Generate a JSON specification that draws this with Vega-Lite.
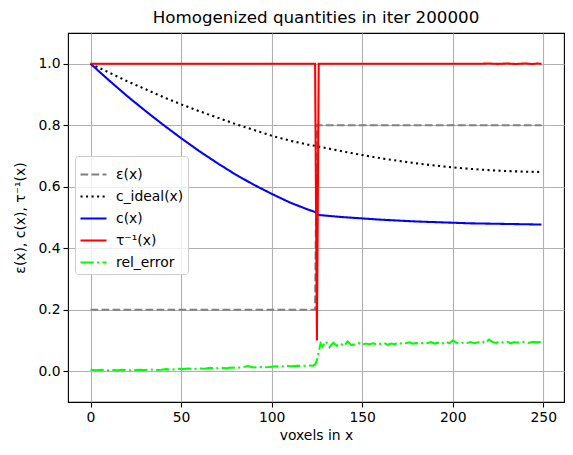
{
  "$schema": "https://vega.github.io/schema/vega-lite/v6.json",
  "autosize": "none",
  "width": 496,
  "height": 369,
  "padding": {"left": 68, "top": 33, "right": 9, "bottom": 53},
  "background": "white",
  "title": {"text": "Homogenized quantities in iter 200000", "fontSize": 16.7, "font": "DejaVu Sans", "fontWeight": "normal", "color": "black", "anchor": "middle", "offset": 6},
  "config": {
    "view": {"stroke": "black", "strokeWidth": 1.1},
    "axis": {"labelFont": "DejaVu Sans", "titleFont": "DejaVu Sans", "labelFontSize": 13.9, "titleFontSize": 13.9, "titleFontWeight": "normal", "labelColor": "black", "titleColor": "black", "tickColor": "black", "tickSize": 5, "tickWidth": 1.1, "domain": false, "grid": true, "gridColor": "#b0b0b0", "gridWidth": 1.1}
  },
  "data": {"values": [
    {"x": 0, "v": 0.2, "s": "ε(x)"}, {"x": 124, "v": 0.2, "s": "ε(x)"}, {"x": 125, "v": 0.8, "s": "ε(x)"}, {"x": 249, "v": 0.8, "s": "ε(x)"},
    {"x": 0, "v": 1.0, "s": "c_ideal(x)"}, {"x": 10, "v": 0.972, "s": "c_ideal(x)"}, {"x": 20, "v": 0.944, "s": "c_ideal(x)"}, {"x": 30, "v": 0.918, "s": "c_ideal(x)"}, {"x": 40, "v": 0.892, "s": "c_ideal(x)"}, {"x": 50, "v": 0.868, "s": "c_ideal(x)"}, {"x": 60, "v": 0.846, "s": "c_ideal(x)"}, {"x": 70, "v": 0.825, "s": "c_ideal(x)"}, {"x": 80, "v": 0.804, "s": "c_ideal(x)"}, {"x": 90, "v": 0.785, "s": "c_ideal(x)"}, {"x": 100, "v": 0.766, "s": "c_ideal(x)"}, {"x": 110, "v": 0.75, "s": "c_ideal(x)"}, {"x": 120, "v": 0.737, "s": "c_ideal(x)"}, {"x": 124, "v": 0.733, "s": "c_ideal(x)"}, {"x": 130, "v": 0.726, "s": "c_ideal(x)"}, {"x": 140, "v": 0.714, "s": "c_ideal(x)"}, {"x": 150, "v": 0.703, "s": "c_ideal(x)"}, {"x": 160, "v": 0.693, "s": "c_ideal(x)"}, {"x": 170, "v": 0.684, "s": "c_ideal(x)"}, {"x": 180, "v": 0.676, "s": "c_ideal(x)"}, {"x": 190, "v": 0.669, "s": "c_ideal(x)"}, {"x": 200, "v": 0.663, "s": "c_ideal(x)"}, {"x": 210, "v": 0.658, "s": "c_ideal(x)"}, {"x": 220, "v": 0.654, "s": "c_ideal(x)"}, {"x": 230, "v": 0.651, "s": "c_ideal(x)"}, {"x": 240, "v": 0.649, "s": "c_ideal(x)"}, {"x": 249, "v": 0.648, "s": "c_ideal(x)"},
    {"x": 0, "v": 1.0, "s": "c(x)"}, {"x": 10, "v": 0.947, "s": "c(x)"}, {"x": 20, "v": 0.896, "s": "c(x)"}, {"x": 30, "v": 0.848, "s": "c(x)"}, {"x": 40, "v": 0.802, "s": "c(x)"}, {"x": 50, "v": 0.758, "s": "c(x)"}, {"x": 60, "v": 0.716, "s": "c(x)"}, {"x": 70, "v": 0.677, "s": "c(x)"}, {"x": 80, "v": 0.64, "s": "c(x)"}, {"x": 90, "v": 0.607, "s": "c(x)"}, {"x": 100, "v": 0.577, "s": "c(x)"}, {"x": 110, "v": 0.549, "s": "c(x)"}, {"x": 120, "v": 0.526, "s": "c(x)"}, {"x": 124, "v": 0.518, "s": "c(x)"}, {"x": 125, "v": 0.511, "s": "c(x)"}, {"x": 126, "v": 0.508, "s": "c(x)"}, {"x": 130, "v": 0.506, "s": "c(x)"}, {"x": 140, "v": 0.501, "s": "c(x)"}, {"x": 150, "v": 0.497, "s": "c(x)"}, {"x": 160, "v": 0.493, "s": "c(x)"}, {"x": 170, "v": 0.49, "s": "c(x)"}, {"x": 180, "v": 0.487, "s": "c(x)"}, {"x": 190, "v": 0.485, "s": "c(x)"}, {"x": 200, "v": 0.483, "s": "c(x)"}, {"x": 210, "v": 0.481, "s": "c(x)"}, {"x": 220, "v": 0.48, "s": "c(x)"}, {"x": 230, "v": 0.479, "s": "c(x)"}, {"x": 240, "v": 0.478, "s": "c(x)"}, {"x": 249, "v": 0.477, "s": "c(x)"},
    {"x": 0, "v": 1.0, "s": "τ⁻¹(x)"}, {"x": 124, "v": 1.0, "s": "τ⁻¹(x)"}, {"x": 125, "v": 0.1, "s": "τ⁻¹(x)"}, {"x": 126, "v": 1.0, "s": "τ⁻¹(x)"}, {"x": 215, "v": 1.0, "s": "τ⁻¹(x)"}, {"x": 220, "v": 1.0008, "s": "τ⁻¹(x)"}, {"x": 225, "v": 0.9995, "s": "τ⁻¹(x)"}, {"x": 230, "v": 1.0008, "s": "τ⁻¹(x)"}, {"x": 235, "v": 0.9993, "s": "τ⁻¹(x)"}, {"x": 240, "v": 1.001, "s": "τ⁻¹(x)"}, {"x": 244, "v": 0.9992, "s": "τ⁻¹(x)"}, {"x": 247, "v": 1.001, "s": "τ⁻¹(x)"}, {"x": 249, "v": 0.9995, "s": "τ⁻¹(x)"},
    {"x": 0, "v": 0.005, "s": "rel_error"}, {"x": 3, "v": 0.003, "s": "rel_error"}, {"x": 6, "v": 0.005, "s": "rel_error"}, {"x": 9, "v": 0.002, "s": "rel_error"}, {"x": 12, "v": 0.004, "s": "rel_error"}, {"x": 15, "v": 0.003, "s": "rel_error"}, {"x": 18, "v": 0.005, "s": "rel_error"}, {"x": 21, "v": 0.003, "s": "rel_error"}, {"x": 24, "v": 0.004, "s": "rel_error"}, {"x": 27, "v": 0.005, "s": "rel_error"}, {"x": 30, "v": 0.004, "s": "rel_error"}, {"x": 33, "v": 0.006, "s": "rel_error"}, {"x": 36, "v": 0.004, "s": "rel_error"}, {"x": 39, "v": 0.005, "s": "rel_error"}, {"x": 42, "v": 0.007, "s": "rel_error"}, {"x": 45, "v": 0.005, "s": "rel_error"}, {"x": 48, "v": 0.008, "s": "rel_error"}, {"x": 51, "v": 0.007, "s": "rel_error"}, {"x": 54, "v": 0.009, "s": "rel_error"}, {"x": 57, "v": 0.007, "s": "rel_error"}, {"x": 60, "v": 0.009, "s": "rel_error"}, {"x": 63, "v": 0.008, "s": "rel_error"}, {"x": 66, "v": 0.011, "s": "rel_error"}, {"x": 69, "v": 0.009, "s": "rel_error"}, {"x": 72, "v": 0.011, "s": "rel_error"}, {"x": 75, "v": 0.01, "s": "rel_error"}, {"x": 78, "v": 0.012, "s": "rel_error"}, {"x": 81, "v": 0.011, "s": "rel_error"}, {"x": 84, "v": 0.013, "s": "rel_error"}, {"x": 87, "v": 0.017, "s": "rel_error"}, {"x": 90, "v": 0.012, "s": "rel_error"}, {"x": 93, "v": 0.014, "s": "rel_error"}, {"x": 96, "v": 0.013, "s": "rel_error"}, {"x": 99, "v": 0.014, "s": "rel_error"}, {"x": 102, "v": 0.016, "s": "rel_error"}, {"x": 105, "v": 0.015, "s": "rel_error"}, {"x": 108, "v": 0.017, "s": "rel_error"}, {"x": 111, "v": 0.016, "s": "rel_error"}, {"x": 114, "v": 0.018, "s": "rel_error"}, {"x": 117, "v": 0.017, "s": "rel_error"}, {"x": 120, "v": 0.019, "s": "rel_error"}, {"x": 123, "v": 0.018, "s": "rel_error"}, {"x": 124, "v": 0.022, "s": "rel_error"}, {"x": 125, "v": 0.035, "s": "rel_error"}, {"x": 126, "v": 0.062, "s": "rel_error"}, {"x": 127, "v": 0.09, "s": "rel_error"}, {"x": 128, "v": 0.08, "s": "rel_error"}, {"x": 130, "v": 0.097, "s": "rel_error"}, {"x": 132, "v": 0.078, "s": "rel_error"}, {"x": 134, "v": 0.093, "s": "rel_error"}, {"x": 136, "v": 0.083, "s": "rel_error"}, {"x": 138, "v": 0.09, "s": "rel_error"}, {"x": 140, "v": 0.082, "s": "rel_error"}, {"x": 142, "v": 0.097, "s": "rel_error"}, {"x": 144, "v": 0.085, "s": "rel_error"}, {"x": 146, "v": 0.088, "s": "rel_error"}, {"x": 148, "v": 0.092, "s": "rel_error"}, {"x": 150, "v": 0.086, "s": "rel_error"}, {"x": 152, "v": 0.09, "s": "rel_error"}, {"x": 154, "v": 0.088, "s": "rel_error"}, {"x": 156, "v": 0.091, "s": "rel_error"}, {"x": 158, "v": 0.087, "s": "rel_error"}, {"x": 160, "v": 0.089, "s": "rel_error"}, {"x": 162, "v": 0.092, "s": "rel_error"}, {"x": 164, "v": 0.086, "s": "rel_error"}, {"x": 166, "v": 0.09, "s": "rel_error"}, {"x": 168, "v": 0.088, "s": "rel_error"}, {"x": 170, "v": 0.093, "s": "rel_error"}, {"x": 172, "v": 0.089, "s": "rel_error"}, {"x": 174, "v": 0.091, "s": "rel_error"}, {"x": 176, "v": 0.094, "s": "rel_error"}, {"x": 178, "v": 0.09, "s": "rel_error"}, {"x": 180, "v": 0.092, "s": "rel_error"}, {"x": 182, "v": 0.089, "s": "rel_error"}, {"x": 184, "v": 0.093, "s": "rel_error"}, {"x": 186, "v": 0.091, "s": "rel_error"}, {"x": 188, "v": 0.095, "s": "rel_error"}, {"x": 190, "v": 0.09, "s": "rel_error"}, {"x": 192, "v": 0.093, "s": "rel_error"}, {"x": 194, "v": 0.089, "s": "rel_error"}, {"x": 196, "v": 0.096, "s": "rel_error"}, {"x": 198, "v": 0.091, "s": "rel_error"}, {"x": 200, "v": 0.1, "s": "rel_error"}, {"x": 202, "v": 0.093, "s": "rel_error"}, {"x": 204, "v": 0.09, "s": "rel_error"}, {"x": 206, "v": 0.094, "s": "rel_error"}, {"x": 208, "v": 0.092, "s": "rel_error"}, {"x": 210, "v": 0.095, "s": "rel_error"}, {"x": 212, "v": 0.091, "s": "rel_error"}, {"x": 214, "v": 0.094, "s": "rel_error"}, {"x": 216, "v": 0.098, "s": "rel_error"}, {"x": 218, "v": 0.092, "s": "rel_error"}, {"x": 220, "v": 0.103, "s": "rel_error"}, {"x": 222, "v": 0.095, "s": "rel_error"}, {"x": 224, "v": 0.092, "s": "rel_error"}, {"x": 226, "v": 0.097, "s": "rel_error"}, {"x": 228, "v": 0.093, "s": "rel_error"}, {"x": 230, "v": 0.096, "s": "rel_error"}, {"x": 232, "v": 0.091, "s": "rel_error"}, {"x": 234, "v": 0.095, "s": "rel_error"}, {"x": 236, "v": 0.093, "s": "rel_error"}, {"x": 238, "v": 0.097, "s": "rel_error"}, {"x": 240, "v": 0.094, "s": "rel_error"}, {"x": 242, "v": 0.092, "s": "rel_error"}, {"x": 244, "v": 0.096, "s": "rel_error"}, {"x": 246, "v": 0.094, "s": "rel_error"}, {"x": 248, "v": 0.095, "s": "rel_error"}, {"x": 249, "v": 0.093, "s": "rel_error"}
  ]},
  "mark": {"type": "line", "strokeWidth": 2.08, "strokeCap": "butt", "clip": true},
  "encoding": {
    "x": {"field": "x", "type": "quantitative", "scale": {"domain": [-12.45, 261.45], "nice": false, "zero": false},
      "axis": {"values": [0, 50, 100, 150, 200, 250], "title": "voxels in x", "labelPadding": 3, "titlePadding": 5}},
    "y": {"field": "v", "type": "quantitative", "scale": {"domain": [-0.1, 1.1], "nice": false, "zero": false},
      "axis": {"values": [0, 0.2, 0.4, 0.6, 0.8, 1.0], "format": ".1f", "title": "ε(x), c(x), τ⁻¹(x)", "labelPadding": 3, "titlePadding": 10}},
    "color": {"field": "s", "type": "nominal",
      "scale": {"domain": ["ε(x)", "c_ideal(x)", "c(x)", "τ⁻¹(x)", "rel_error"], "range": ["#808080", "#000000", "#0000ff", "#ff0000", "#00ff00"]},
      "legend": {"title": null, "orient": "none", "legendX": 7, "legendY": 123, "padding": 4, "symbolType": "stroke", "symbolSize": 676, "symbolStrokeWidth": 2.08, "rowPadding": -4, "labelOffset": 8, "labelFontSize": 13.9, "labelFont": "DejaVu Sans", "labelColor": "black", "strokeColor": "#cccccc", "fillColor": "rgba(255,255,255,0.8)", "cornerRadius": 3}},
    "strokeDash": {"field": "s", "type": "nominal",
      "scale": {"domain": ["ε(x)", "c_ideal(x)", "c(x)", "τ⁻¹(x)", "rel_error"], "range": [[7.7, 3.3], [2.08, 3.44], [1, 0], [1, 0], [13.3, 3.3, 2.08, 3.3]]},
      "legend": {"title": null, "orient": "none", "legendX": 7, "legendY": 123}}
  }
}
